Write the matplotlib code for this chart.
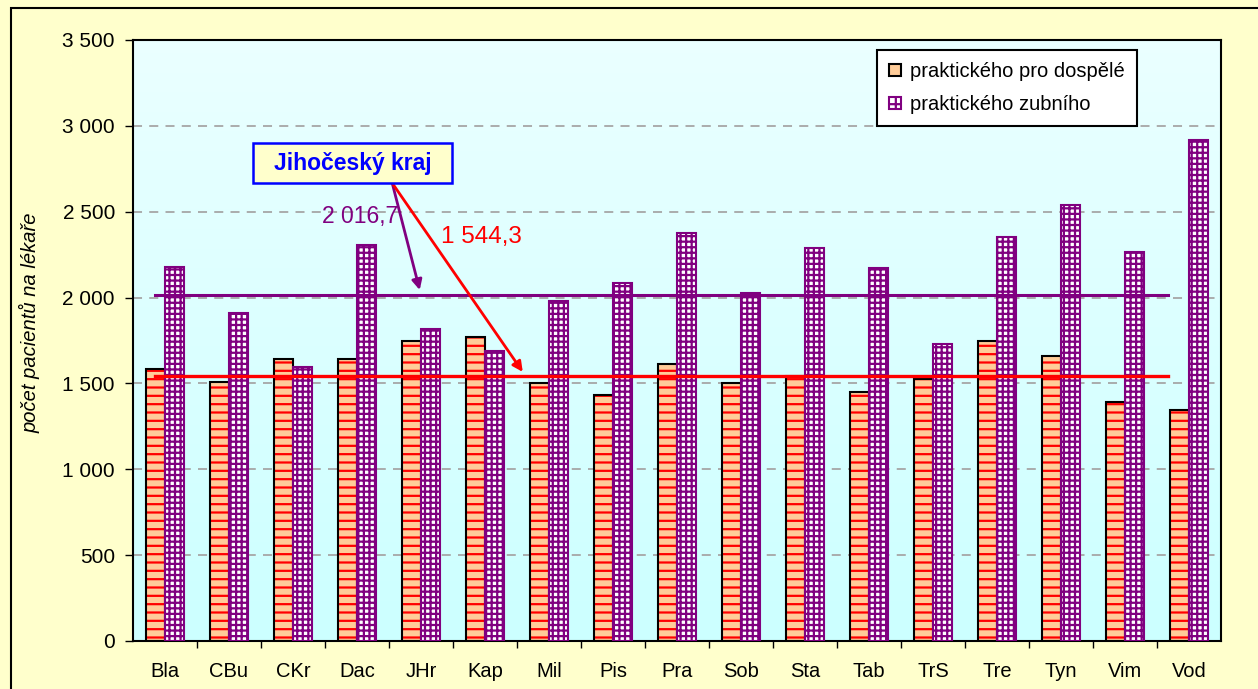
import matplotlib.pyplot as plt
import numpy as np
from matplotlib.patches import Rectangle, Patch
from matplotlib.ticker import FuncFormatter, FixedLocator

districts = ["Bla", "CBu", "CKr", "Dac", "JHr", "Kap", "Mil", "Pis", "Pra",
             "Sob", "Sta", "Tab", "TrS", "Tre", "Tyn", "Vim", "Vod"]
adults = [1582, 1510, 1640, 1640, 1747, 1769, 1500, 1431, 1615,
          1501, 1545, 1452, 1524, 1745, 1662, 1394, 1347]
dental = [2176, 1908, 1594, 2306, 1815, 1687, 1980, 2083, 2374,
          2025, 2291, 2174, 1731, 2351, 2537, 2267, 2920]
avg_dental = 2016.7
avg_adults = 1544.3
series_names = ["praktického pro dospělé", "praktického zubního"]

plt.rcParams['font.family'] = ['Liberation Sans', 'DejaVu Sans']
plt.rcParams['hatch.linewidth'] = 1.6

W, H = 1258, 689
fig = plt.figure(figsize=(W / 100, H / 100), dpi=100)
fig.patch.set_facecolor('#FFFFCC')
fig.patches.append(Rectangle((11 / W, -0.02), 1.05, (689 - 8) / H + 0.02,
                             transform=fig.transFigure, fill=False,
                             edgecolor='black', linewidth=1.5, zorder=0))

ax = fig.add_axes([133 / W, 48 / H, (1221 - 133) / W, (641 - 40) / H])
x = np.arange(len(districts))
ax.set_xlim(-0.5, len(districts) - 0.5)
ax.set_ylim(0, 3500)

# gradient background
grad = np.linspace(0, 1, 256).reshape(-1, 1)
top = np.array([0.92, 1.0, 1.0])
bot = np.array([0.80, 1.0, 1.0])
img = bot + (top - bot) * grad
ax.imshow(img.reshape(256, 1, 3), extent=(-0.5, len(districts) - 0.5, 0, 3500),
          origin='lower', aspect='auto', zorder=0)

for yv in range(500, 3500, 500):
    ax.axhline(yv, color='#A6A6A6', linestyle=(0, (5, 4)), linewidth=1.3, zorder=1)

bw = 0.29
ax.bar(x - bw / 2, adults, bw, color='#FFCC99', edgecolor='#FF0000', hatch='--',
       linewidth=0, zorder=2)
ax.bar(x - bw / 2, adults, bw, fill=False, edgecolor='black', linewidth=1.5, zorder=3)
ax.bar(x + bw / 2, dental, bw, color='white', edgecolor='#800080', hatch='+++',
       linewidth=1.5, zorder=3)

ax.plot([-0.16, 15.67], [avg_dental, avg_dental], color='#800080', linewidth=2.2, zorder=4)
ax.plot([-0.16, 15.67], [avg_adults, avg_adults], color='#FF0000', linewidth=2.4, zorder=4)

ax.annotate('', xy=(3.98, 2044), xytext=(3.55, 2667),
            arrowprops=dict(arrowstyle='-|>', color='#800080', lw=2, mutation_scale=15,
                            shrinkA=0, shrinkB=0), zorder=5)
ax.annotate('', xy=(5.59, 1567), xytext=(3.55, 2667),
            arrowprops=dict(arrowstyle='-|>', color='#FF0000', lw=2, mutation_scale=15,
                            shrinkA=0, shrinkB=0), zorder=5)
ax.text(3.05, 2470, '2 016,7', color='#800080', fontsize=16.5, ha='center', va='center', zorder=6)
ax.text(4.95, 2353, '1 544,3', color='#FF0000', fontsize=17.5, ha='center', va='center', zorder=6)
ax.add_patch(Rectangle((1.375, 2667), 3.11, 233, facecolor='#FFFFCC', edgecolor='#0000FF',
                       linewidth=1.8, zorder=7))
ax.text(2.93, 2783, 'Jihočeský kraj', color='#0000FF', fontsize=16.5, fontweight='bold',
        ha='center', va='center', zorder=8)

handles = [Patch(facecolor='#FFCC99', edgecolor='black', linewidth=1.5),
           Patch(facecolor='white', edgecolor='#800080', hatch='++', linewidth=1.5)]
leg = ax.legend(handles, series_names,
                loc='upper right', bbox_to_anchor=(1137 / W, (689 - 50) / H),
                bbox_transform=fig.transFigure, fontsize=14.5, frameon=True,
                fancybox=False, handlelength=0.6, handleheight=0.6,
                handletextpad=0.45, labelspacing=0.7, borderpad=0.6,
                borderaxespad=0, framealpha=1)
leg.get_frame().set_edgecolor('black')
leg.get_frame().set_linewidth(1.5)
leg.set_zorder(9)

for s in ax.spines.values():
    s.set_linewidth(1.5)

ax.set_yticks(range(0, 3501, 500))
ax.yaxis.set_major_formatter(FuncFormatter(lambda v, p: f"{int(v):,}".replace(',', ' ')))
ax.tick_params(axis='y', direction='out', length=6, width=1, pad=7, labelsize=15)
ax.set_xticks(x)
ax.set_xticklabels(districts)
ax.xaxis.set_minor_locator(FixedLocator(np.arange(0.5, len(districts) - 0.5, 1)))
ax.tick_params(axis='x', which='major', length=0, pad=15, labelsize=14.5)
ax.tick_params(axis='x', which='minor', direction='out', length=5, width=1)

fig.text(30 / W, (689 - 323) / H, 'počet pacientů na lékaře', rotation=90,
         style='italic', fontsize=14.5, ha='center', va='center')

fig.savefig('out.png', dpi=100, facecolor=fig.get_facecolor())
